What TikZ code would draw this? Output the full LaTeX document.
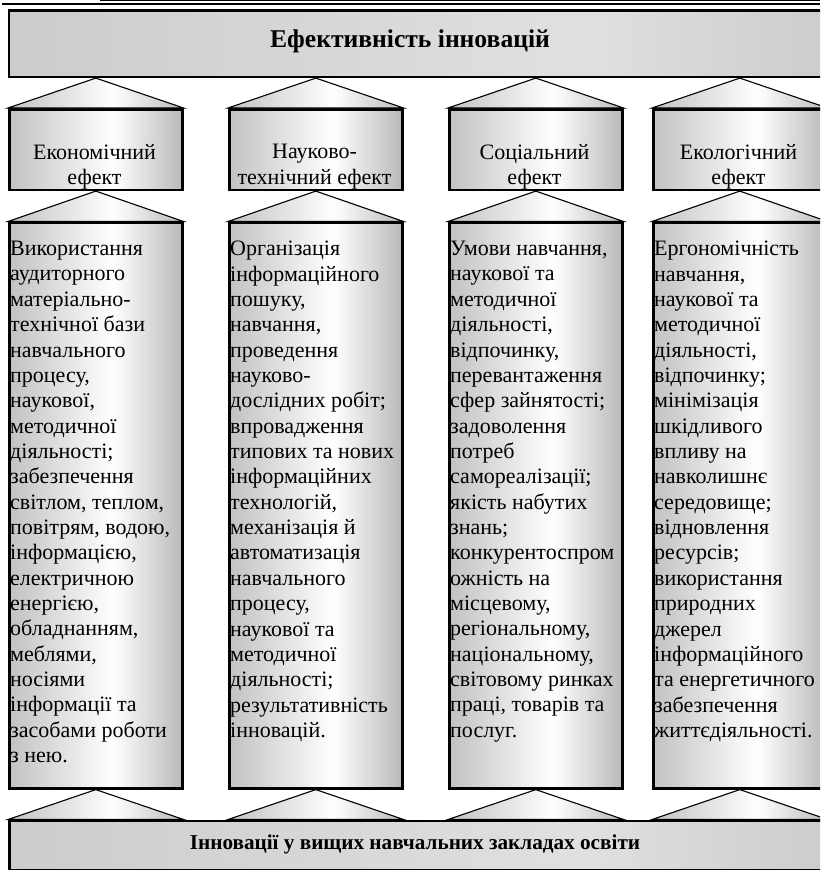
\documentclass[tikz,border=0pt]{standalone}
\usepackage{fontspec}
\setmainfont{Liberation Serif}
\usetikzlibrary{positioning}

\pgfdeclarehorizontalshading{colshade}{100bp}{color(0bp)=(black!24); color(25bp)=(black!24); color(55bp)=(white); color(75bp)=(black!27); color(100bp)=(black!27)}
\pgfdeclarehorizontalshading{barshade}{100bp}{color(0bp)=(black!20); color(25bp)=(black!20); color(60bp)=(black!12); color(75bp)=(black!20); color(100bp)=(black!20)}

\begin{document}
\begin{tikzpicture}[x=1pt, y=-1pt,
    bar/.style={draw, line width=2.6pt, shade, shading=barshade, inner sep=0pt,
        minimum width=823pt, anchor=north west},
    effbox/.style={draw, line width=2.6pt, shade, shading=colshade, inner sep=0pt,
        minimum width=173pt, minimum height=80.5pt, anchor=north west},
    colbox/.style={draw, line width=2.6pt, shade, shading=colshade, inner sep=0pt,
        minimum width=173pt, minimum height=565.5pt, anchor=north west},
    tri/.style={draw, line width=1.1pt, line join=miter, shade, shading=colshade},
    efftext/.style={align=center, inner sep=0pt, font=\fontsize{22}{25.3}\selectfont},
    bodytext/.style={align=left, inner sep=0pt, anchor=north west, font=\fontsize{22}{25.35}\selectfont}
]
    \clip (0,0) rectangle (820,870);

    % Page rule
    \draw[line width=0.8pt] (100,0.8) -- (820,0.8);
    \draw[line width=2pt] (2,3.8) -- (820,3.8);

    % Top and bottom bars
    \node[bar, minimum height=66.5pt] (effect) at (7.5,9) {};
    \node[font=\fontsize{25.6}{28}\selectfont\bfseries] (efftitle) at (410,41) {Ефективність інновацій};
    \node[bar, minimum height=49pt] (innov) at (8,819.5) {};
    \node[font=\fontsize{21.2}{24}\selectfont\bfseries] (innovtitle) at (415,844) {Інновації у вищих навчальних закладах освіти};

    % Kinds of effect
    \node[effbox] (ecoeff) at (8,108) {};
    \node[effbox] (scieff) at (228,108) {};
    \node[effbox] (soceff) at (448,108) {};
    \node[effbox] (enveff) at (652,108) {};
    \node[efftext] (ecolab) at (94.5,166.5) {Економічний\\ефект};
    \node[efftext] (scilab) at (314.5,166.5) {Науково-\\технічний ефект};
    \node[efftext] (soclab) at (534.5,166.5) {Соціальний\\ефект};
    \node[efftext] (envlab) at (738.5,166.5) {Екологічний\\ефект};

    % Columns
    \node[colbox] (ecocol) at (8,221.5) {};
    \node[colbox] (scicol) at (228,221.5) {};
    \node[colbox] (soccol) at (448,221.5) {};
    \node[colbox] (envcol) at (652,221.5) {};

    \node[bodytext] (ecotext) at (10,241) {Використання\\аудиторного\\матеріально-\\технічної бази\\навчального\\процесу,\\наукової,\\методичної\\діяльності;\\забезпечення\\світлом, теплом,\\повітрям, водою,\\інформацією,\\електричною\\енергією,\\обладнанням,\\меблями,\\носіями\\інформації та\\засобами роботи\\з нею.};
    \node[bodytext] (scitext) at (230,241) {Організація\\інформаційного\\пошуку,\\навчання,\\проведення\\науково-\\дослідних робіт;\\впровадження\\типових та нових\\інформаційних\\технологій,\\механізація й\\автоматизація\\навчального\\процесу,\\наукової та\\методичної\\діяльності;\\результативність\\інновацій.};
    \node[bodytext] (soctext) at (450,241) {Умови навчання,\\наукової та\\методичної\\діяльності,\\відпочинку,\\перевантаження\\сфер зайнятості;\\задоволення\\потреб\\самореалізації;\\якість набутих\\знань;\\конкурентоспром\\ожність на\\місцевому,\\регіональному,\\національному,\\світовому ринках\\праці, товарів та\\послуг.};
    \node[bodytext] (envtext) at (654,241) {Ергономічність\\навчання,\\наукової та\\методичної\\діяльності,\\відпочинку;\\мінімізація\\шкідливого\\впливу на\\навколишнє\\середовище;\\відновлення\\ресурсів;\\використання\\природних\\джерел\\інформаційного\\та енергетичного\\забезпечення\\життєдіяльності.};

    % Wedges between the levels
    \foreach \eff/\col in {ecoeff/ecocol, scieff/scicol, soceff/soccol, enveff/envcol} {
        \path[tri] (\eff.north west) -- (\eff.north east) -- (\eff.north |- effect.south) -- cycle;
        \path[tri] (\col.north west) -- (\col.north east) -- (\col.north |- \eff.south) -- cycle;
        \path[tri] (\col.west |- innov.north) -- (\col.east |- innov.north) -- (\col.south) -- cycle;
    }
\end{tikzpicture}
\end{document}
